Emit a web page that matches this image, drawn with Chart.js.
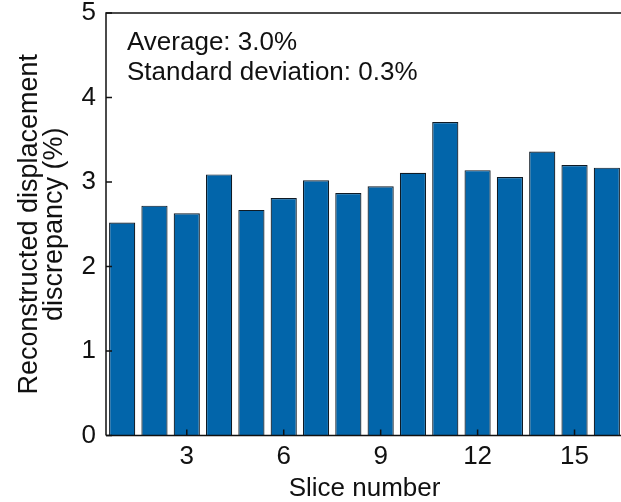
<!DOCTYPE html>
<html>
<head>
<meta charset="utf-8">
<script src="https://cdn.jsdelivr.net/npm/chart.js@4.4.1/dist/chart.umd.min.js"></script>
<style>
  html, body { margin: 0; padding: 0; background: #fff; overflow: hidden; }
  #wrap { width: 640px; height: 502px; }
</style>
</head>
<body>
<div id="wrap"><canvas id="chart1" width="640" height="502"></canvas></div>
<script>
// data
var slices = ['1', '2', '3', '4', '5', '6', '7', '8', '9', '10', '11', '12', '13', '14', '15', '16'];
var discrepancy = [2.52, 2.72, 2.63, 3.09, 2.67, 2.81, 3.02, 2.87, 2.95, 3.11, 3.71, 3.14, 3.06, 3.36, 3.20, 3.17];
var yTicks = [0, 1, 2, 3, 4, 5];
var xTickLabels = ['3', '6', '9', '12', '15'];
var notes = ['Average: 3.0%', 'Standard deviation: 0.3%'];

var FONT = '"Liberation Sans", Arial, sans-serif';

// frame, inward tick marks and annotation
var framePlugin = {
    id: 'frame',
    afterDatasetsDraw: function(chart) {
        var c = chart.ctx, a = chart.chartArea;
        var xs = chart.scales.x, ys = chart.scales.y;
        c.save();
        c.strokeStyle = '#111';
        c.lineWidth = 1.5;
        c.beginPath();
        c.moveTo(a.left, a.bottom);
        c.lineTo(a.left, a.top);
        c.lineTo(a.right, a.top);
        c.lineTo(a.right, a.bottom);
        c.lineTo(a.left, a.bottom);
        c.stroke();
        c.beginPath();
        yTicks.forEach(function(v) {
            var py = ys.getPixelForValue(v);
            c.moveTo(a.left, py);
            c.lineTo(a.left + 6, py);
        });
        xTickLabels.forEach(function(l) {
            var px = xs.getPixelForValue(slices.indexOf(l));
            c.moveTo(px, a.bottom);
            c.lineTo(px, a.bottom - 6);
        });
        c.stroke();
        c.fillStyle = '#111';
        c.font = '26px ' + FONT;
        c.textBaseline = 'middle';
        c.textAlign = 'left';
        c.fillText(notes[0], a.left + 21, 43);
        c.fillText(notes[1], a.left + 21, 73);
        c.restore();
    }
};

function noPad(s) {
    s.paddingTop = 0;
    s.paddingBottom = 0;
    s.paddingLeft = 0;
    s.paddingRight = 0;
}

var ctx = document.getElementById('chart1').getContext('2d');
var myChart = new Chart(ctx, {
    type: 'bar',
    data: {
        labels: slices,
        datasets: [{
            data: discrepancy,
            backgroundColor: '#0265aa',
            borderColor: '#0f1a24',
            borderWidth: 1.2,
            borderSkipped: 'bottom',
            categoryPercentage: 1,
            barPercentage: 0.81
        }]
    },
    options: {
        responsive: false,
        animation: false,
        layout: { padding: { top: 13, right: 17, left: 0, bottom: 0 } },
        plugins: {
            legend: { display: false },
            tooltip: { enabled: false }
        },
        scales: {
            x: {
                grid: { display: false, drawTicks: false },
                border: { display: false },
                ticks: {
                    autoSkip: false,
                    maxRotation: 0,
                    padding: 8,
                    color: '#111',
                    font: { family: FONT, size: 26, lineHeight: 1.0 },
                    callback: function(v, i) {
                        var l = slices[i];
                        return xTickLabels.indexOf(l) >= 0 ? l : '';
                    }
                },
                title: {
                    display: true,
                    text: 'Slice number',
                    color: '#111',
                    font: { family: FONT, size: 26, lineHeight: 1.0 },
                    padding: { top: 6, bottom: 0 }
                },
                afterFit: function(s) { s.height = 66.5; noPad(s); }
            },
            y: {
                min: 0,
                max: 5,
                grid: { display: false, drawTicks: false },
                border: { display: false },
                ticks: {
                    stepSize: 1,
                    padding: 10,
                    color: '#111',
                    font: { family: FONT, size: 26 }
                },
                title: {
                    display: true,
                    text: ['Reconstructed displacement', 'discrepancy (%)'],
                    color: '#111',
                    font: { family: FONT, size: 27, lineHeight: 0.93 },
                    padding: { top: 17, bottom: 0 }
                },
                afterFit: function(s) { s.width = 106; noPad(s); }
            }
        }
    },
    plugins: [framePlugin]
});
</script>
</body>
</html>
